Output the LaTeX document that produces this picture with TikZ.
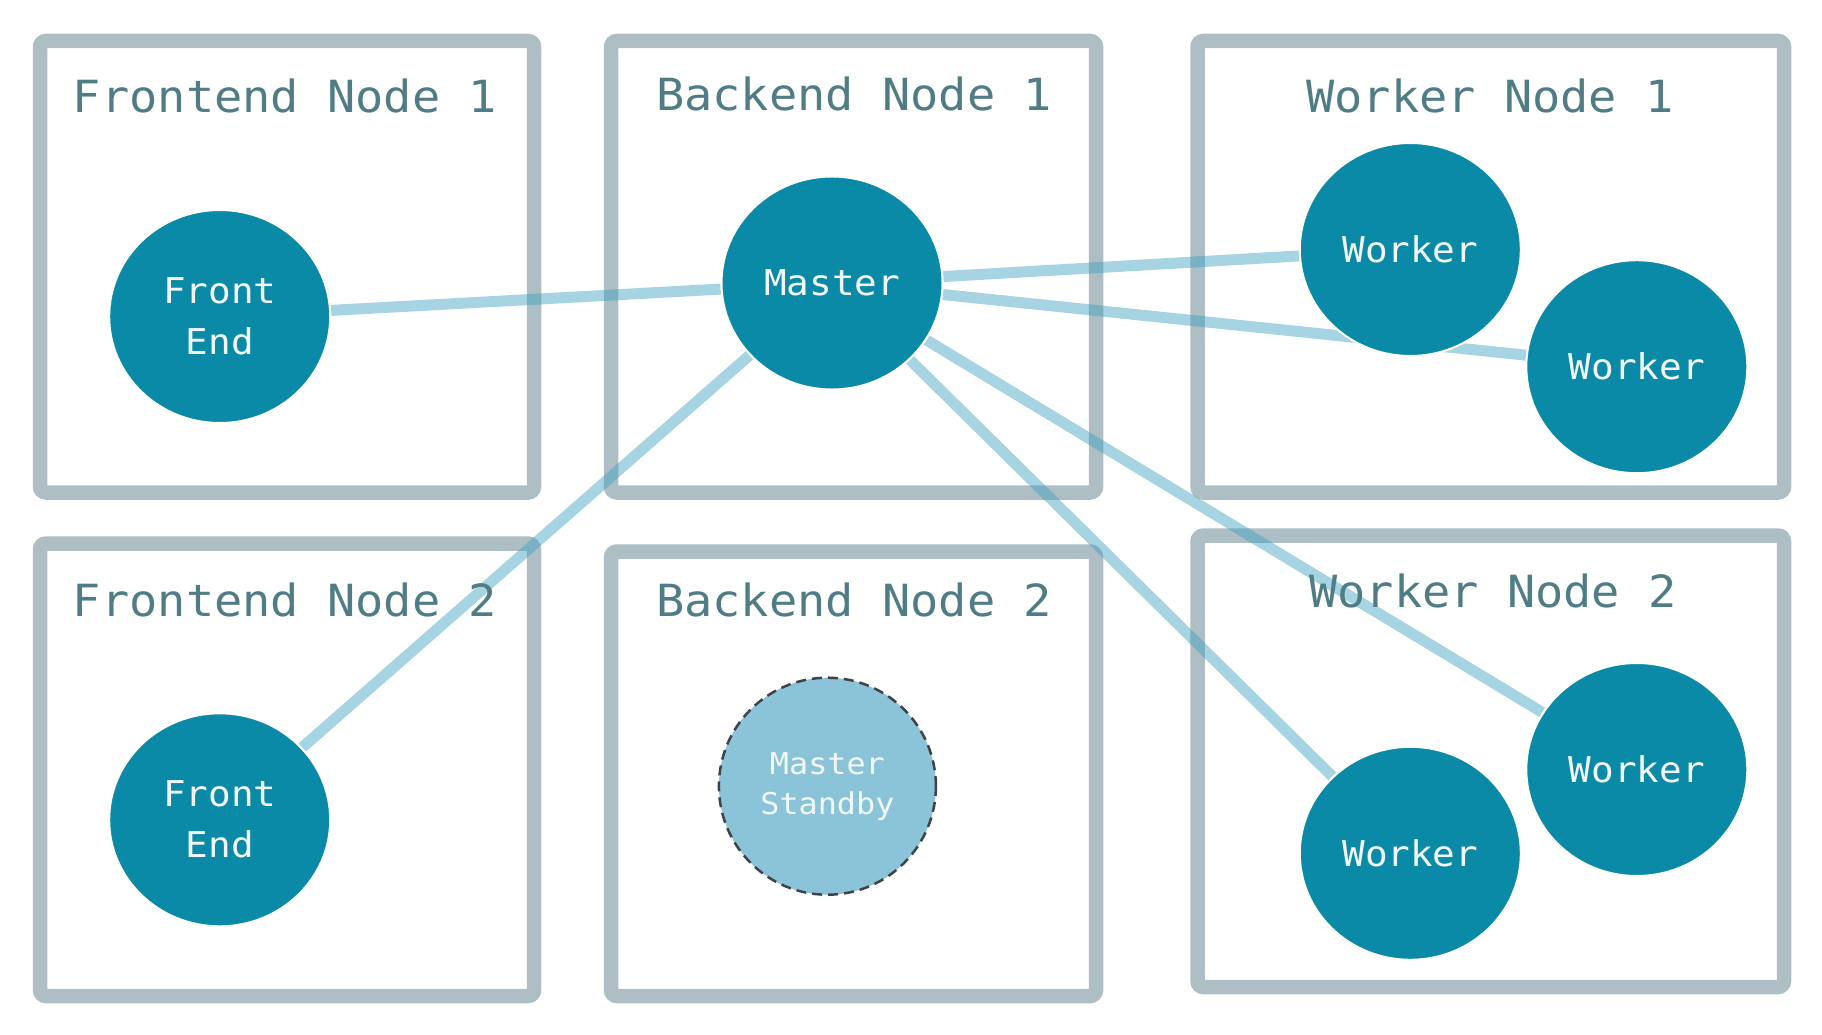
\documentclass[tikz,border=0pt]{standalone}
\usepackage{fontspec}
\usetikzlibrary{shapes.geometric}
\newfontfamily\diagfont[FakeStretch=1.06]{DejaVu Sans Mono}
\definecolor{framegray}{HTML}{AEBEC5}
\definecolor{titleteal}{HTML}{507C85}
\definecolor{nodeteal}{HTML}{0B8AA8}
\definecolor{linkblue}{HTML}{399FBF}
\definecolor{standbyblue}{HTML}{8BC4D8}
\definecolor{dashgray}{HTML}{3D4349}
\definecolor{labelwhite}{HTML}{F2F8FA}
\pgfdeclarelayer{frames}
\pgfdeclarelayer{links}
\pgfsetlayers{frames,links,main}
\begin{document}
\begin{tikzpicture}[
        x=1pt, y=-1pt,
        hostbox/.style = {rectangle, draw=framegray, line width=14.5pt, rounded corners=6pt, inner sep=0pt},
        hosttitle/.style = {text=titleteal, anchor=base, inner sep=0pt, font=\diagfont\fontsize{44.3}{53}\selectfont},
        proc/.style = {ellipse, fill=nodeteal, draw=white, line width=2pt, minimum width=221pt, minimum height=213pt,
                inner sep=0pt, text=labelwhite, align=center, font=\diagfont\fontsize{35.5}{51}\selectfont},
        spare/.style = {circle, fill=standbyblue, draw=dashgray, line width=2.5pt, dash pattern=on 10pt off 6pt,
                minimum size=217pt, inner sep=0pt, text=labelwhite, align=center, font=\diagfont\fontsize{30}{40}\selectfont},
        link/.style = {draw=linkblue, draw opacity=0.45, line width=11pt}]
    \useasboundingbox (0,0) rectangle (1822,1035);
    \begin{pgfonlayer}{frames}
        \node[hostbox, minimum width=494pt, minimum height=451.5pt] (fn1) at (287,266.75) {};
        \node[hostbox, minimum width=485pt, minimum height=451.5pt] (bn1) at (853.5,266.75) {};
        \node[hostbox, minimum width=586.5pt, minimum height=451.5pt] (wn1) at (1490.75,266.75) {};
        \node[hostbox, minimum width=494pt, minimum height=452.5pt] (fn2) at (287,769.75) {};
        \node[hostbox, minimum width=485pt, minimum height=444.5pt] (bn2) at (853.5,773.75) {};
        \node[hostbox, minimum width=586.5pt, minimum height=451.5pt] (wn2) at (1490.75,761.25) {};
    \end{pgfonlayer}
    \node[hosttitle] (fn1title) at (285,112.3) {Frontend Node 1};
    \node[hosttitle] (bn1title) at (854,110.5) {Backend Node 1};
    \node[hosttitle] (wn1title) at (1490,112.3) {Worker Node 1};
    \node[hosttitle] (fn2title) at (285,616.7) {Frontend Node 2};
    \node[hosttitle] (bn2title) at (854,616.7) {Backend Node 2};
    \node[hosttitle] (wn2title) at (1493,607.3) {Worker Node 2};
    \node[proc] (fe1) at (219.7,316.5) {Front\\End};
    \node[proc] (fe2) at (219.7,819.8) {Front\\End};
    \node[proc] (master) at (832,283) {Master};
    \node[spare] (standby) at (827.4,786.2) {Master\\Standby};
    \node[proc] (wa) at (1410.3,249.5) {Worker};
    \node[proc] (wb) at (1636.8,366.7) {Worker};
    \node[proc] (wc) at (1410.3,853.3) {Worker};
    \node[proc] (wd) at (1636.8,769.5) {Worker};
    \begin{pgfonlayer}{links}
        \foreach \peer in {fe1,fe2,wa,wb,wc,wd}
            \draw[link] (master) -- (\peer);
    \end{pgfonlayer}
\end{tikzpicture}
\end{document}
